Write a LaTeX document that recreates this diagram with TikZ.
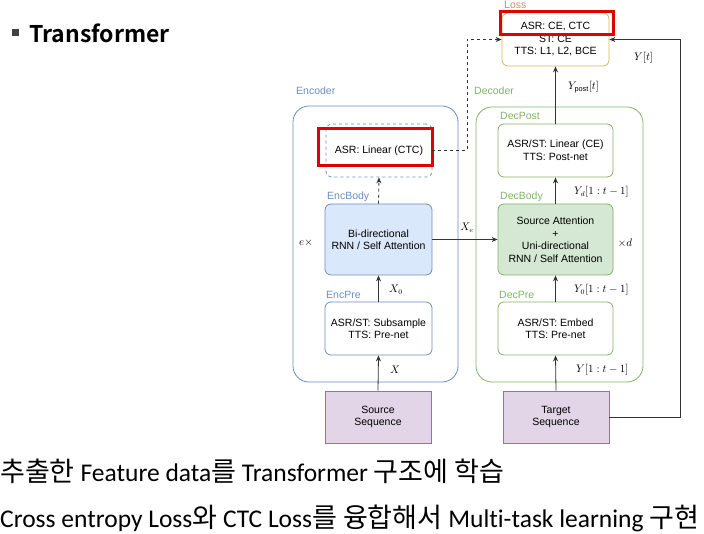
\documentclass[tikz,border=0pt]{standalone}
\usepackage{fontspec}
\setmainfont{Liberation Sans}
\newfontfamily\krfont[Scale=1.06]{Noto Sans CJK KR}
\newfontfamily\krboldfont{Noto Sans CJK KR Bold}
\newfontfamily\calfont[Ligatures={NoCommon}]{Carlito}
\usetikzlibrary{arrows.meta}
\definecolor{encC}{HTML}{6C8EBF}
\definecolor{encF}{HTML}{DAE8FC}
\definecolor{decC}{HTML}{82B366}
\definecolor{decF}{HTML}{D5E8D4}
\definecolor{lossC}{HTML}{D6B656}
\definecolor{lossT}{HTML}{D48A6A}
\definecolor{seqC}{HTML}{9673A6}
\definecolor{seqF}{HTML}{E1D5E7}
\definecolor{lineC}{HTML}{333333}
\definecolor{redC}{HTML}{E00000}
\newcommand\krtext[1]{{\krfont #1}}
\tikzset{
  blk/.style={rectangle, rounded corners=6pt, align=center, line width=0.8pt,
    font=\fontsize{10.5}{12.5}\selectfont, inner sep=0pt},
  outer/.style={rectangle, rounded corners=16pt, line width=0.8pt, inner sep=0pt},
  grp/.style={anchor=base west, font=\fontsize{10.5}{12.5}\selectfont, inner sep=0pt},
  mlab/.style={font=\fontsize{10.5}{12}\selectfont, inner sep=0pt},
  conn/.style={draw=lineC, line width=0.8pt, -{Stealth[length=6pt,width=5pt]}},
  redbox/.style={rectangle, draw=redC, line width=2.6pt, inner sep=0pt},
  krline/.style={anchor=base west, inner sep=0pt, font=\fontsize{25.5}{27}\calfont}
}
\begin{document}
\begin{tikzpicture}[x=1pt,y=-1pt]
\useasboundingbox (0,0) rectangle (704,534);
% title
\fill[black!75] (12,29) rectangle (19,36);
\node[anchor=base west, inner sep=0pt, font=\fontsize{23}{26}\krboldfont] (title) at (29,43) {Transformer};
% outer groups
\node[outer, draw=encC, minimum width=165pt, minimum height=276pt] (enc) at (375.5,244) {};
\node[outer, draw=decC, minimum width=167pt, minimum height=275pt] (dec) at (559.5,244.5) {};
\node[grp, text=encC] (encl) at (296,95) {Encoder};
\node[grp, text=decC] (decl) at (474,95) {Decoder};
% loss
\node[blk, draw=lossC, minimum width=107pt, minimum height=53pt] (loss) at (555.5,39.5) {ASR: CE, CTC\\ST: CE\\TTS: L1, L2, BCE};
\node[grp, text=lossT] (lossl) at (504,8.5) {Loss};
% encoder blocks
\node[blk, draw=encC, dashed, minimum width=106pt, minimum height=53pt] (ctc) at (379,150.5) {ASR: Linear (CTC)};
\node[blk, draw=encC, fill=encF, minimum width=107pt, minimum height=71pt] (encbody) at (378.5,239.5) {Bi-directional\\RNN / Self Attention};
\node[blk, draw=encC, minimum width=107pt, minimum height=53pt] (encpre) at (378.5,328.5) {ASR/ST: Subsample\\TTS: Pre-net};
\node[blk, draw=seqC, fill=seqF, rounded corners=0pt, minimum width=106pt, minimum height=52pt] (src) at (378,417) {Source\\Sequence};
\node[grp, text=encC] (encbl) at (327,200) {EncBody};
\node[grp, text=encC] (encpl) at (326,298.5) {EncPre};
% decoder blocks
\node[blk, draw=decC, minimum width=115pt, minimum height=53pt] (decpost) at (555.5,150.5) {ASR/ST: Linear (CE)\\TTS: Post-net};
\node[blk, draw=decC, fill=decF, minimum width=115pt, minimum height=71pt] (decbody) at (555.5,239.5) {Source Attention\\+\\Uni-directional\\RNN / Self Attention};
\node[blk, draw=decC, minimum width=115pt, minimum height=53pt] (decpre) at (555.5,328.5) {ASR/ST: Embed\\TTS: Pre-net};
\node[blk, draw=seqC, fill=seqF, rounded corners=0pt, minimum width=106pt, minimum height=52pt] (tgt) at (556,417) {Target\\Sequence};
\node[grp, text=decC] (decpl) at (500,120) {DecPost};
\node[grp, text=decC] (decbl) at (500,200) {DecBody};
\node[grp, text=decC] (decprl) at (499,298.5) {DecPre};
% red highlight boxes
\node[redbox, minimum width=113pt, minimum height=23pt] (red1) at (557,23) {};
\node[redbox, minimum width=114pt, minimum height=37pt] (red2) at (375.5,147) {};
% connectors
\coordinate (cx) at (467,0);
\coordinate (rx) at (680,0);
\draw[conn] (src.north) -- (encpre.south);
\draw[conn] (encpre.north) -- (encbody.south);
\draw[conn, dashed] (encbody.north) -- (ctc.south);
\draw[conn, dashed] (ctc.east) -- (ctc.east -| cx) |- (loss.west);
\draw[conn] (encbody.east) -- (decbody.west);
\draw[conn] (tgt.north) -- (decpre.south);
\draw[conn] (decpre.north) -- (decbody.south);
\draw[conn] (decbody.north) -- (decpost.south);
\draw[conn] (decpost.north) -- (loss.south);
\draw[conn] (tgt.east) -- (tgt.east -| rx) |- (loss.east);
% math labels
\node[mlab, anchor=west] (l1) at (568,87) {$Y_{\mathrm{post}}[t]$};
\node[mlab, anchor=west] (l2) at (634,58) {$Y[t]$};
\node[mlab] (l3) at (467,228) {$X_e$};
\node[mlab] (l4) at (306,243) {$e\times$};
\node[mlab] (l5) at (625,243) {$\times d$};
\node[mlab] (l6) at (396,290) {$X_0$};
\node[mlab, anchor=west] (l7) at (574,192) {$Y_d[1:t-1]$};
\node[mlab, anchor=west] (l8) at (574,290) {$Y_0[1:t-1]$};
\node[mlab] (l9) at (395,370) {$X$};
\node[mlab, anchor=west] (l10) at (576,370) {$Y[1:t-1]$};
% korean lines
\node[krline] (k1) at (0,481) {\krtext{추출한} Feature data\krtext{를} Transformer \krtext{구조에 학습}};
\node[krline] (k2) at (0,527) {Cross entropy Loss\krtext{와} CTC Loss\krtext{를 융합해서} Multi-task learning \krtext{구현}};
\end{tikzpicture}
\end{document}
